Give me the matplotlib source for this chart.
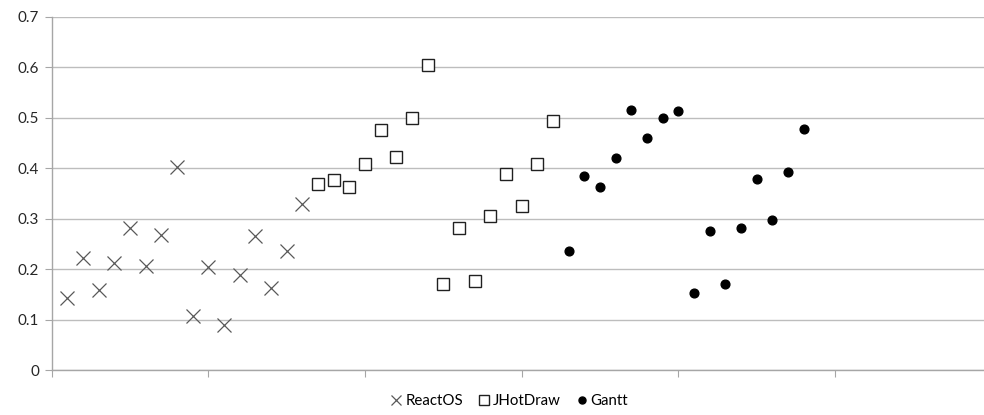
from matplotlib import pyplot as plt
import numpy as np

plt.rcParams['font.family'] = ['Lato', 'DejaVu Sans']

# x positions are just the running sample index
reactos_x = np.arange(1, 17)
reactos_y = [0.142, 0.222, 0.158, 0.212, 0.282, 0.207, 0.268, 0.403,
             0.107, 0.205, 0.090, 0.188, 0.266, 0.162, 0.236, 0.329]

jhotdraw_x = np.arange(17, 33)
jhotdraw_y = [0.369, 0.376, 0.363, 0.408, 0.475, 0.423, 0.499, 0.605,
              0.171, 0.281, 0.176, 0.305, 0.388, 0.324, 0.409, 0.494]

gantt_x = np.arange(33, 49)
gantt_y = [0.235, 0.384, 0.363, 0.421, 0.516, 0.460, 0.499, 0.514,
           0.153, 0.276, 0.171, 0.281, 0.378, 0.297, 0.392, 0.477]

y_ticks = [0, 0.1, 0.2, 0.3, 0.4, 0.5, 0.6, 0.7]
x_ticks = [0, 10, 20, 30, 40, 50]

fig = plt.figure(figsize=(9.84, 4.15), dpi=100)
ax = fig.add_axes([0.0525, 0.1084, 0.9475, 0.8514])

ax.plot(reactos_x, reactos_y, linestyle='none', marker='x', markersize=9.5,
        markeredgewidth=0.9, color='#595959', label='ReactOS')
ax.plot(jhotdraw_x, jhotdraw_y, linestyle='none', marker='s', markersize=8.5,
        markeredgewidth=1.0, markerfacecolor='white', markeredgecolor='#202020',
        label='JHotDraw')
ax.plot(gantt_x, gantt_y, linestyle='none', marker='o', markersize=6.3,
        color='black', label='Gantt')

ax.set_xlim(0, 59.5)
ax.set_ylim(0, 0.7)
ax.set_yticks(y_ticks)
ax.set_yticklabels(['0' if v == 0 else '%.1f' % v for v in y_ticks])
ax.set_xticks(x_ticks)
ax.set_xticklabels([])

ax.grid(axis='y', color='#bdbdbd', linewidth=1.0)
ax.set_axisbelow(True)
for side in ['top', 'right']:
    ax.spines[side].set_visible(False)
for side in ['left', 'bottom']:
    ax.spines[side].set_color('#a6a6a6')
    ax.spines[side].set_linewidth(1.0)
ax.tick_params(axis='y', length=5, color='#a6a6a6', labelsize=11,
               labelcolor='#262626', pad=4)
ax.tick_params(axis='x', length=5, color='#a6a6a6')

ax.legend(loc='center', bbox_to_anchor=(0.4916, -0.087), ncol=3, frameon=False,
          fontsize=10.8, handlelength=0.6, handletextpad=0.3, columnspacing=1.1,
          markerscale=0.8)

fig.savefig('out.png', dpi=100)
